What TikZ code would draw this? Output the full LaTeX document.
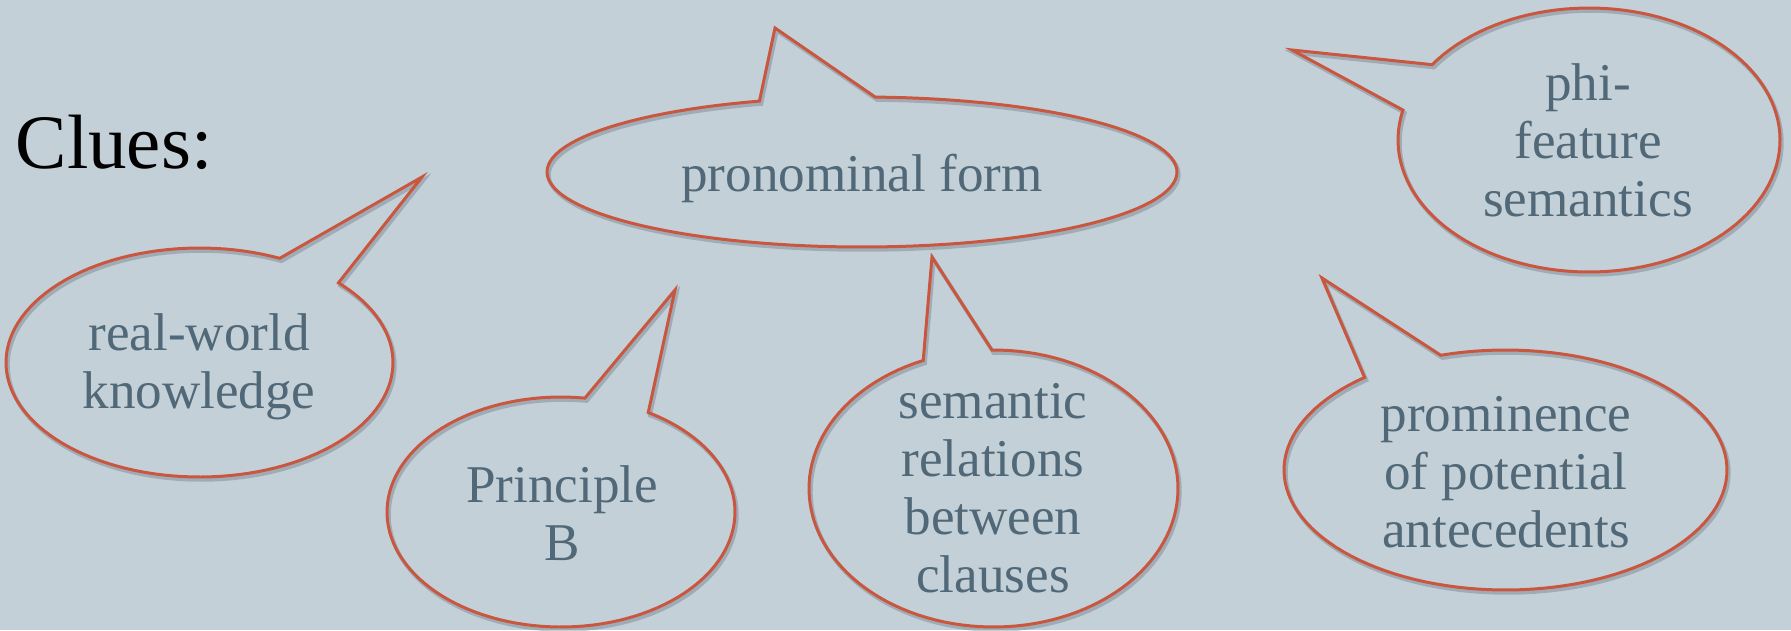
\documentclass[tikz,border=0pt]{standalone}
\usepackage{fontspec}
\setmainfont{Liberation Serif}
\usepackage{tikz}
\definecolor{slideBg}{RGB}{196,208,215}
\definecolor{bubbleRed}{RGB}{201,86,62}
\definecolor{clueText}{RGB}{80,104,119}
\definecolor{shadowGray}{RGB}{80,92,104}

\begin{document}
\begin{tikzpicture}[x=0.01cm, y=0.01cm,
  bubble/.style={bubbleRed, line width=0.85pt,
    preaction={draw=shadowGray, opacity=0.3, line width=1.1pt,
      transform canvas={shift={(0.5pt,-0.8pt)}}}},
  cluetext/.style={text=clueText, align=center, inner sep=0pt,
    font=\fontsize{15.1}{16.5}\selectfont}]
\fill[slideBg] (0,0) rectangle (1791,-630);
\useasboundingbox (0,0) rectangle (1791,-630);

\node[anchor=base west, inner sep=0pt, font=\fontsize{21.9}{26}\selectfont] (clues) at (15,-168) {Clues:};

% bubbles: centre, radii, tail start/end angle, tail tip
\foreach \cx/\cy/\rx/\ry/\abeg/\aend/\tipx/\tipy in {
    862/-172/315/75/109/447.6/775/-28,
    199.5/-362.5/193.5/114.5/65.5/404.1/422/-177,
    561/-512/174/115/82.1/419.9/675/-290,
    993.5/-488.5/184.5/138.5/112.4/450.5/932/-257,
    1589/-140/191/132/166.9/505.2/1292/-50,
    1505.5/-470/221.5/120/129.5/467/1322/-278}
{
  \draw[bubble] plot[domain=\abeg:\aend, samples=120, variable=\t]
    ({\cx+\rx*cos(\t)},{\cy+\ry*sin(\t)}) -- (\tipx,\tipy) -- cycle;
}

\node[cluetext] (form) at (862,-178) {pronominal form};
\node[cluetext] (world) at (199,-367) {real-world\\knowledge};
\node[cluetext] (prinb) at (562,-513) {Principle\\B};
\node[cluetext] (clauses) at (993,-488) {semantic\\relations\\between\\clauses};
\node[cluetext] (phi) at (1588,-140) {phi-\\feature\\semantics};
\node[cluetext] (promin) at (1506,-472) {prominence\\of potential\\antecedents};
\end{tikzpicture}
\end{document}
